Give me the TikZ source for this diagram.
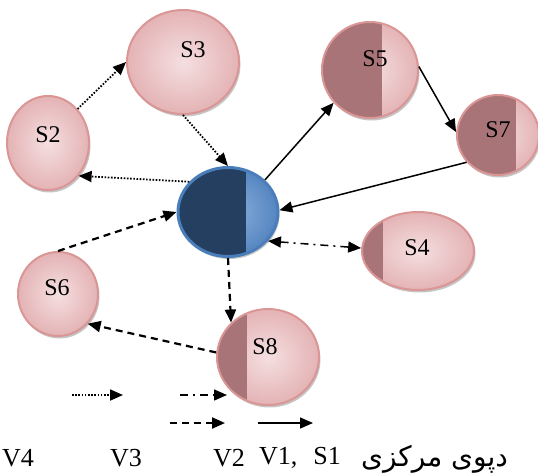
\documentclass[tikz,border=0pt]{standalone}
\usepackage{fontspec}
\setmainfont{Liberation Serif}
\newfontfamily\arabicfont[Script=Arabic]{DejaVu Sans}
\TeXXeTstate=1
\usetikzlibrary{shapes.geometric,arrows.meta,shadows}
\definecolor{pinkedge}{HTML}{D99694}
\definecolor{pinkin}{HTML}{F5DFE0}
\definecolor{pinkout}{HTML}{E4B3B5}
\definecolor{pinkdark}{HTML}{A87478}
\definecolor{blueedge}{HTML}{4A7EBB}
\definecolor{bluein}{HTML}{8DB1DE}
\definecolor{blueout}{HTML}{5585C0}
\definecolor{bluedark}{HTML}{243F60}
\tikzset{
  ball/.style={ellipse, inner sep=0pt, draw=pinkedge, line width=2pt,
    inner color=pinkin, outer color=pinkout,
    drop shadow={shadow xshift=1.5pt, shadow yshift=-2.5pt, fill=black!45, opacity=.5}},
  half/.style={path picture={\fill[pinkdark] (path picture bounding box.south west)
    rectangle ([xshift=#1]path picture bounding box.north west);}},
  hub/.style={ellipse, inner sep=0pt, draw=blueedge, line width=3pt,
    inner color=bluein, outer color=blueout,
    drop shadow={shadow xshift=1.5pt, shadow yshift=-2.5pt, fill=black!45, opacity=.5},
    path picture={\fill[bluedark] (path picture bounding box.south west)
    rectangle ([xshift=68pt]path picture bounding box.north west);}},
  tx/.style={font=\fontsize{24}{27}\selectfont},
  key/.style={font=\fontsize{26}{29}\selectfont},
  tip/.style={-{Triangle[length=13pt,width=11pt]}},
  link/.style={line width=1.5pt, tip},
  dots/.style={link, line width=1.8pt, dash pattern=on 1.6pt off 1.6pt},
  dashy/.style={link, line width=2.2pt, dash pattern=on 7pt off 5pt},
  dashdot/.style={link, dash pattern=on 8pt off 5pt on 2pt off 5pt},
}
\begin{document}
\begin{tikzpicture}[x=1pt,y=-1pt,line join=round]
  \useasboundingbox (0,0) rectangle (538,472);
  % depot and customers
  \node[hub, minimum width=100pt, minimum height=89pt] (S1) at (228,212) {};
  \node[ball, minimum width=82pt, minimum height=94pt,
    label={[tx,name=l2,shift={(0pt,8pt)}]center:S2}] (S2) at (48,143) {};
  \node[ball, minimum width=112pt, minimum height=104pt,
    label={[tx,name=l3,shift={(10pt,12pt)}]center:S3}] (S3) at (183,62) {};
  \node[ball, half=21pt, minimum width=112pt, minimum height=78pt,
    label={[tx,name=l4,shift={(-1pt,3pt)}]center:S4}] (S4) at (418,251) {};
  \node[ball, half=60pt, minimum width=96pt, minimum height=96pt,
    label={[tx,name=l5,shift={(5pt,11pt)}]center:S5}] (S5) at (370,70) {};
  \node[ball, minimum width=80pt, minimum height=84pt,
    label={[tx,name=l6,shift={(-1pt,6pt)}]center:S6}] (S6) at (58,294) {};
  \node[ball, half=59pt, minimum width=82pt, minimum height=80pt,
    label={[tx,name=l7,shift={(0pt,5pt)}]center:S7}] (S7) at (498,135) {};
  \node[ball, half=30pt, minimum width=102pt, minimum height=96pt,
    label={[tx,name=l8,shift={(-3pt,10pt)}]center:S8}] (S8) at (268,357) {};
  % routes
  \draw[dots] (S2.49) -- (S3.west);
  \draw[dots] (S3.south) -- (S1.north);
  \draw[dots] (S1.142) -- (S2.-47);
  \draw[link] (S1.41) -- (S5.222);
  \draw[link] (S5.4) -- (S7.176);
  \draw[link] (S7.221) -- (S1.2);
  \draw[dashdot, {Triangle[length=13pt,width=11pt]}-{Triangle[length=13pt,width=11pt]}]
    (S1.-36) -- (S4.177);
  \draw[dashy] (S6.north) -- (S1.west);
  \draw[dashy] (S1.south) -- (S8.137);
  \draw[dashy] (S8.175) -- (S6.-45);
  % legend
  \path
  (72,395) coordinate (d1) (123,395) coordinate (d2)
  (180,395) coordinate (c1) (227,395) coordinate (c2)
  (170,423) coordinate (e1) (225,423) coordinate (e2)
  (258,423) coordinate (f1) (313,423) coordinate (f2)
  ;
  \draw[dots] (d1) -- (d2);
  \draw[dashdot] (c1) -- (c2);
  \draw[dashy] (e1) -- (e2);
  \draw[link] (f1) -- (f2);
  \node[key] (v4) at (18,458) {V4};
  \node[key] (v3) at (126,458) {V3};
  \node[key] (v2) at (229,458) {V2};
  \node[key, anchor=west, inner sep=0pt] (v1) at (259,458) {V1,\hspace{16pt}S1};
  \node[anchor=east, inner sep=0pt, font=\fontsize{28}{31}\selectfont] (dep) at (508,459)
    {\arabicfont\beginR دپوی مرکزی\endR};
\end{tikzpicture}
\end{document}
